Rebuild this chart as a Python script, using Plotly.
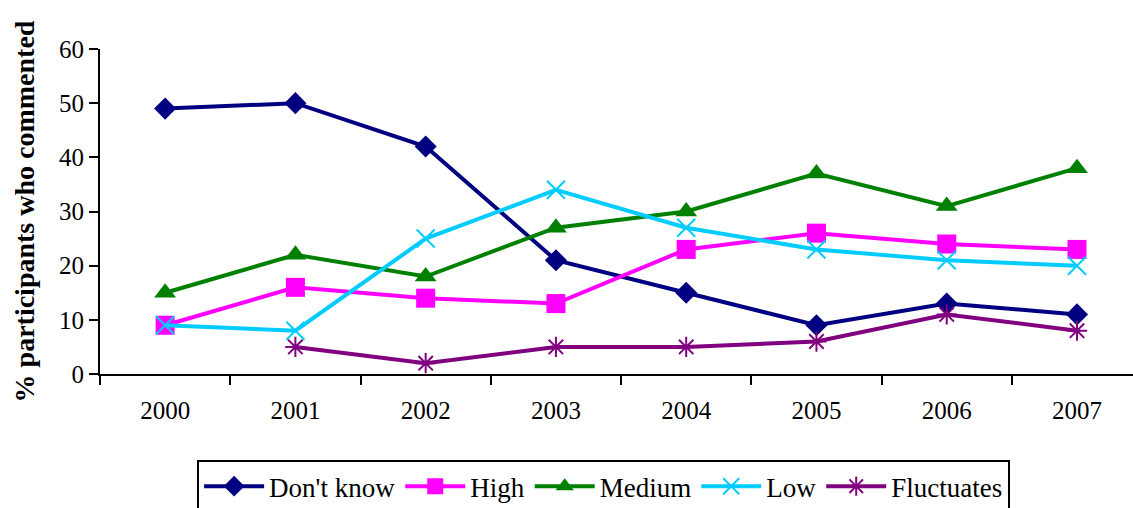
import plotly.graph_objects as go

# Survey results by year
years = ["2000", "2001", "2002", "2003", "2004", "2005", "2006", "2007"]
dont_know = [49, 50, 42, 21, 15, 9, 13, 11]
high = [9, 16, 14, 13, 23, 26, 24, 23]
medium = [15, 22, 18, 27, 30, 37, 31, 38]
low = [9, 8, 25, 34, 27, 23, 21, 20]
fluctuates = [None, 5, 2, 5, 5, 6, 11, 8]

y_ticks = [0, 10, 20, 30, 40, 50, 60]

series = [
    ("Don't know", dont_know, "#000080", dict(symbol="diamond", size=17)),
    ("High", high, "#FF00FF", dict(symbol="square", size=19)),
    ("Medium", medium, "#008000", dict(symbol="triangle-up", size=19)),
    ("Low", low, "#00CCFF", dict(symbol="x-thin-open", size=18, line=dict(width=2, color="#00CCFF"))),
    ("Fluctuates", fluctuates, "#800080", dict(symbol="asterisk-open", size=17, line=dict(width=2, color="#800080"))),
]

fig = go.Figure()
for name, vals, color, marker in series:
    m = dict(color=color, **marker)
    fig.add_trace(go.Scatter(
        x=years, y=vals, name=name, mode="lines+markers",
        line=dict(color=color, width=4),
        marker=m,
        connectgaps=False,
    ))

font_family = "Liberation Serif, Times New Roman, serif"

fig.update_layout(
    width=1133, height=508,
    margin=dict(l=100, r=0, t=49, b=134, autoexpand=False),
    plot_bgcolor="white", paper_bgcolor="white",
    font=dict(family=font_family, size=22, color="black"),
    showlegend=True,
    legend=dict(
        orientation="h",
        x=0.094, y=-0.265, xanchor="left", yanchor="top",
        bordercolor="black", borderwidth=2,
        font=dict(family=font_family, size=27, color="black"),
        itemwidth=60,
        tracegroupgap=0,
    ),
    xaxis=dict(
        type="category",
        range=[-0.5, 7.43],
        showline=True, linecolor="black", linewidth=2,
        ticks="outside", tickson="boundaries", ticklen=9, tickwidth=2, tickcolor="black",
        showgrid=False, zeroline=False,
        tickfont=dict(family=font_family, size=25),
        ticklabelstandoff=13,
    ),
    yaxis=dict(
        range=[0, 60],
        tickvals=y_ticks,
        showline=True, linecolor="black", linewidth=2,
        ticks="outside", ticklen=9, tickwidth=2, tickcolor="black",
        showgrid=False, zeroline=False,
        tickfont=dict(family=font_family, size=25),
        title=dict(text="<b>% participants who commented</b>",
                   font=dict(family=font_family, size=28), standoff=16),
    ),
)

fig.write_html("out.html")
